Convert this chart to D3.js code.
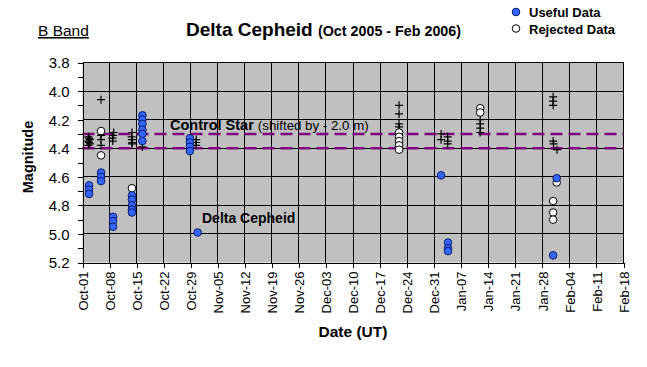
<!DOCTYPE html>
<html><head><meta charset="utf-8">
<script src="https://cdn.jsdelivr.net/npm/d3@7"></script>
<style>body{margin:0;background:#fff}svg{display:block;font-family:"Liberation Sans",Arial,sans-serif}</style>
</head><body><svg id="c" width="647" height="367"></svg>
<script>
// Useful (blue) Delta Cephei measurements: [UT date-hour, magnitude]
const usefulData = [
  ["2005-10-02 17",4.66],["2005-10-02 17",4.69],["2005-10-02 17",4.72],
  ["2005-10-05 19",4.57],["2005-10-05 19",4.60],["2005-10-05 19",4.63],
  ["2005-10-08 22",4.88],["2005-10-08 22",4.91],["2005-10-08 22",4.95],
  ["2005-10-13 19",4.73],["2005-10-13 19",4.76],["2005-10-13 19",4.80],["2005-10-13 19",4.83],["2005-10-13 19",4.85],
  ["2005-10-16 12",4.17],["2005-10-16 12",4.20],["2005-10-16 12",4.23],["2005-10-16 12",4.27],["2005-10-16 12",4.30],["2005-10-16 12",4.35],
  ["2005-10-28 19",4.33],["2005-10-28 19",4.36],["2005-10-28 19",4.39],["2005-10-28 19",4.42],
  ["2005-10-30 19",4.99],
  ["2006-01-01 19",4.59],
  ["2006-01-03 14",5.06],["2006-01-03 14",5.10],["2006-01-03 14",5.12],
  ["2006-01-30 19",5.15],
  ["2006-01-31 17",4.61]
];
// Rejected (white) measurements
const rejectedData = [
  ["2005-10-05 19",4.28],["2005-10-05 19",4.45],
  ["2005-10-13 19",4.68],
  ["2005-12-21 22",4.29],["2005-12-21 22",4.32],["2005-12-21 22",4.35],["2005-12-21 22",4.38],["2005-12-21 22",4.41],
  ["2006-01-11 22",4.12],["2006-01-11 22",4.15],
  ["2006-01-30 19",4.77],["2006-01-30 19",4.85],["2006-01-30 19",4.90],
  ["2006-01-31 17",4.64]
];
// Control star (shifted by -2.0 m), plus markers
const controlData = [
  ["2005-10-02 12",4.32],["2005-10-02 12",4.35],["2005-10-02 12",4.38],
  ["2005-10-02 17",4.33],["2005-10-02 17",4.36],["2005-10-02 22",4.34],["2005-10-02 22",4.37],
  ["2005-10-05 19",4.06],["2005-10-05 19",4.31],["2005-10-05 19",4.34],["2005-10-05 19",4.38],
  ["2005-10-08 18",4.33],["2005-10-08 22",4.31],["2005-10-09 02",4.29],["2005-10-08 20",4.35],
  ["2005-10-13 19",4.29],["2005-10-13 17",4.32],["2005-10-13 19",4.34],["2005-10-13 21",4.36],["2005-10-13 19",4.37],
  ["2005-10-16 12",4.39],
  ["2005-10-30 10",4.34],["2005-10-30 10",4.36],["2005-10-30 10",4.38],
  ["2005-12-21 22",4.10],["2005-12-21 22",4.16],["2005-12-21 22",4.23],["2005-12-21 22",4.25],
  ["2006-01-01 19",4.30],["2006-01-01 19",4.34],["2006-01-03 12",4.32],["2006-01-03 12",4.35],["2006-01-03 12",4.37],
  ["2006-01-11 22",4.20],["2006-01-11 22",4.23],["2006-01-11 22",4.26],["2006-01-11 22",4.29],
  ["2006-01-30 19",4.04],["2006-01-30 19",4.07],["2006-01-30 19",4.10],
  ["2006-01-30 19",4.35],["2006-01-30 22",4.37],["2006-01-31 19",4.41]
];
// Control star reference lines
const controlLines = [4.3, 4.4];
const yTickValues = [3.8,4.0,4.2,4.4,4.6,4.8,5.0,5.2];
const xStart = "2005-10-01", xEnd = "2006-02-18";

const parse = d3.utcParse("%Y-%m-%d %H");
const parseDay = d3.utcParse("%Y-%m-%d");
const svg = d3.select("#c");
const L = 82.5, R = 623.5, T = 62.5, B = 262.5;
const x = d3.scaleUtc().domain([parseDay(xStart), parseDay(xEnd)]).range([L, R]);
const y = d3.scaleLinear().domain([3.8, 5.2]).range([T, B]);
const weekTicks = d3.range(0, 21).map(i => d3.utcDay.offset(parseDay(xStart), 7*i));

// plot background
svg.append("rect").attr("x", L).attr("y", T).attr("width", R-L).attr("height", B-T).attr("fill", "#c0c0c0");

// gridlines
const g = svg.append("g").attr("stroke", "#000").attr("stroke-width", 1).attr("shape-rendering","crispEdges");
weekTicks.slice(1).forEach(d => g.append("line").attr("x1", x(d)).attr("x2", x(d)).attr("y1", T).attr("y2", B));
yTickValues.slice(0, -1).forEach(v => g.append("line").attr("x1", L).attr("x2", R).attr("y1", y(v)).attr("y2", y(v)));

// control star lines
controlLines.forEach(v => svg.append("line").attr("x1", L).attr("x2", R).attr("y1", y(v)).attr("y2", y(v))
  .attr("stroke", "#800080").attr("stroke-width", 2.5).attr("stroke-dasharray", "12,6"));

// y axis
const yAxis = d3.axisLeft(y).tickValues(d3.range(38, 53).map(v => v/10)).tickSize(5).tickFormat(d => yTickValues.some(t => Math.abs(t-d) < 1e-6) ? d3.format(".1f")(d) : "");
const ya = svg.append("g").attr("transform", `translate(${L},0)`).call(yAxis);
ya.select(".domain").attr("stroke", "#000").attr("shape-rendering","crispEdges");
ya.selectAll(".tick line").attr("shape-rendering","crispEdges");
ya.selectAll("text").attr("font-size", 15).attr("font-family", "Liberation Sans, Arial").attr("x", -13).attr("dy", "0.36em");

// x axis
const xAxis = d3.axisBottom(x).tickValues(weekTicks).tickSize(5).tickFormat(d3.utcFormat("%b-%d"));
const xa = svg.append("g").attr("transform", `translate(0,${B})`).call(xAxis);
xa.select(".domain").attr("shape-rendering","crispEdges");
xa.selectAll(".tick line").attr("shape-rendering","crispEdges");
xa.selectAll("text").attr("font-size", 13).attr("font-family", "Liberation Sans, Arial")
  .attr("transform", "rotate(-90)").attr("text-anchor", "end").attr("x", -9).attr("y", 0).attr("dy", "0.36em");

// control star plus markers
svg.append("g").selectAll("path").data(controlData).join("path")
  .attr("d", d => `M${x(parse(d[0]))-4},${y(d[1])}h8M${x(parse(d[0]))},${y(d[1])-4}v8`)
  .attr("stroke", "#000").attr("stroke-width", 1.2).attr("fill", "none");

// rejected points
svg.append("g").selectAll("circle").data(rejectedData).join("circle")
  .attr("cx", d => x(parse(d[0]))).attr("cy", d => y(d[1])).attr("r", 3.8)
  .attr("fill", "#fff").attr("stroke", "#000").attr("stroke-width", 1);
// useful points
svg.append("g").selectAll("circle").data(usefulData).join("circle")
  .attr("cx", d => x(parse(d[0]))).attr("cy", d => y(d[1])).attr("r", 3.8)
  .attr("fill", "#3366ff").attr("stroke", "#0a1a66").attr("stroke-width", 1);

// annotations
const cs = svg.append("text").attr("x", 170).attr("y", 130).attr("fill", "#000");
cs.append("tspan").attr("font-weight", "bold").attr("font-size", 14.5).text("Control Star ");
cs.append("tspan").attr("font-size", 13.3).text("(shifted by - 2.0 m)");
svg.append("text").attr("x", 202).attr("y", 223).attr("font-weight", "bold").attr("font-size", 14).text("Delta Cepheid");

// titles
const t = svg.append("text").attr("x", 186).attr("y", 36).attr("font-weight", "bold");
t.append("tspan").attr("font-size", 19).text("Delta Cepheid ");
t.append("tspan").attr("font-size", 14.3).text("(Oct 2005 - Feb 2006)");
svg.append("text").attr("x", 38).attr("y", 36).attr("font-size", 15.5).attr("text-decoration", "underline").text("B Band");
svg.append("text").attr("transform", "translate(33,157) rotate(-90)").attr("text-anchor", "middle")
  .attr("font-weight", "bold").attr("font-size", 14.5).text("Magnitude");
svg.append("text").attr("x", 353).attr("y", 337).attr("text-anchor", "middle")
  .attr("font-weight", "bold").attr("font-size", 15.5).text("Date (UT)");

// legend
const legendItems = [["Useful Data", "#3366ff", "#0a1a66"], ["Rejected Data", "#fff", "#000"]];
const lg = svg.append("g");
legendItems.forEach((it, i) => {
  lg.append("circle").attr("cx", 516).attr("cy", 12 + i*16.5).attr("r", 3.8).attr("fill", it[1]).attr("stroke", it[2]);
  lg.append("text").attr("x", 529).attr("y", 17 + i*16.5).attr("font-weight", "bold").attr("font-size", 13).text(it[0]);
});
</script></body></html>
